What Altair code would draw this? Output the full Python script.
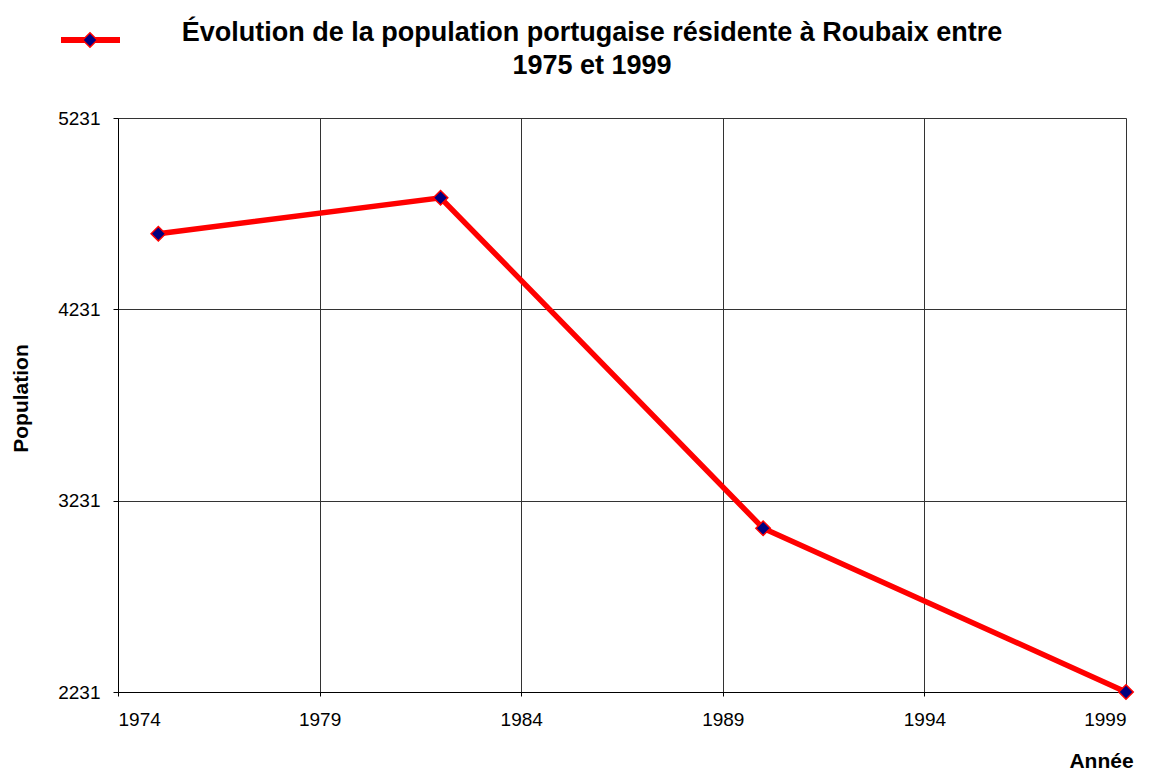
import altair as alt
import pandas as pd

years = [1975, 1982, 1990, 1999]
population = [4626, 4814, 3087, 2231]
y_ticks = [2231, 3231, 4231, 5231]
x_ticks = [1974, 1979, 1984, 1989, 1994, 1999]
title_line1 = "Évolution de la population portugaise résidente à Roubaix entre"
title_line2 = "1975 et 1999"

df = pd.DataFrame({"Année": years, "Population": population})

FONT = "Liberation Sans"
W, H = 1008, 574

x_enc = alt.X("Année:Q",
              scale=alt.Scale(domain=[1974, 1999], nice=False, zero=False),
              axis=alt.Axis(values=x_ticks, format="d", title="Année",
                            titleFont=FONT, titleFontSize=21, titleFontWeight="bold",
                            titleColor="black", titleX=983, titleY=69,
                            titleAlign="center", titleBaseline="middle",
                            labelFont=FONT, labelFontSize=19, labelColor="black",
                            labelPadding=14, tickSize=4, tickColor="black",
                            domainColor="black", grid=True, gridColor="#333333",
                            gridWidth=1))
y_enc = alt.Y("Population:Q",
              scale=alt.Scale(domain=[2231, 5231], nice=False, zero=False),
              axis=alt.Axis(values=y_ticks, format="d", title="Population",
                            titleFont=FONT, titleFontSize=21, titleFontWeight="bold",
                            titleColor="black", titleX=-97, titleY=280,
                            titleAlign="center", titleBaseline="middle",
                            labelFont=FONT, labelFontSize=19, labelColor="black",
                            labelPadding=13, tickSize=5, tickColor="black",
                            domainColor="black", grid=True, gridColor="#333333",
                            gridWidth=1))

line = alt.Chart(df).mark_line(color="#ff0000", strokeWidth=5.5).encode(x=x_enc, y=y_enc)
points = alt.Chart(df).mark_point(shape="diamond", filled=True, fill="#000080",
                                  stroke="#ff0000", strokeWidth=1.5, size=210,
                                  opacity=1).encode(x="Année:Q", y="Population:Q")

one = df.head(1)
t1 = alt.Chart(one).mark_text(font=FONT, fontSize=27, fontWeight="bold", color="black",
                              align="center", baseline="middle",
                              text=title_line1).encode(x=alt.value(474), y=alt.value(-85))
t2 = alt.Chart(one).mark_text(font=FONT, fontSize=27, fontWeight="bold", color="black",
                              align="center", baseline="middle",
                              text=title_line2).encode(x=alt.value(474), y=alt.value(-52))

legend_line = alt.Chart(one).mark_rule(color="#ff0000", strokeWidth=6).encode(
    x=alt.value(-57), x2=alt.value(2), y=alt.value(-78))
legend_pt = alt.Chart(one).mark_point(shape="diamond", filled=True, fill="#000080",
                                      stroke="#ff0000", strokeWidth=1.5, size=210,
                                      opacity=1).encode(
    x=alt.value(-28), y=alt.value(-78))

chart = alt.layer(line, points, legend_line, legend_pt, t1, t2).properties(
    width=W, height=H,
    autosize=alt.AutoSizeParams(type="none"),
    padding={"left": 110, "top": 110, "right": 23, "bottom": 81},
).configure_view(stroke="black", strokeWidth=1).configure(background="white")

chart.save("out.html", embed_options={"renderer": "svg", "actions": False})
